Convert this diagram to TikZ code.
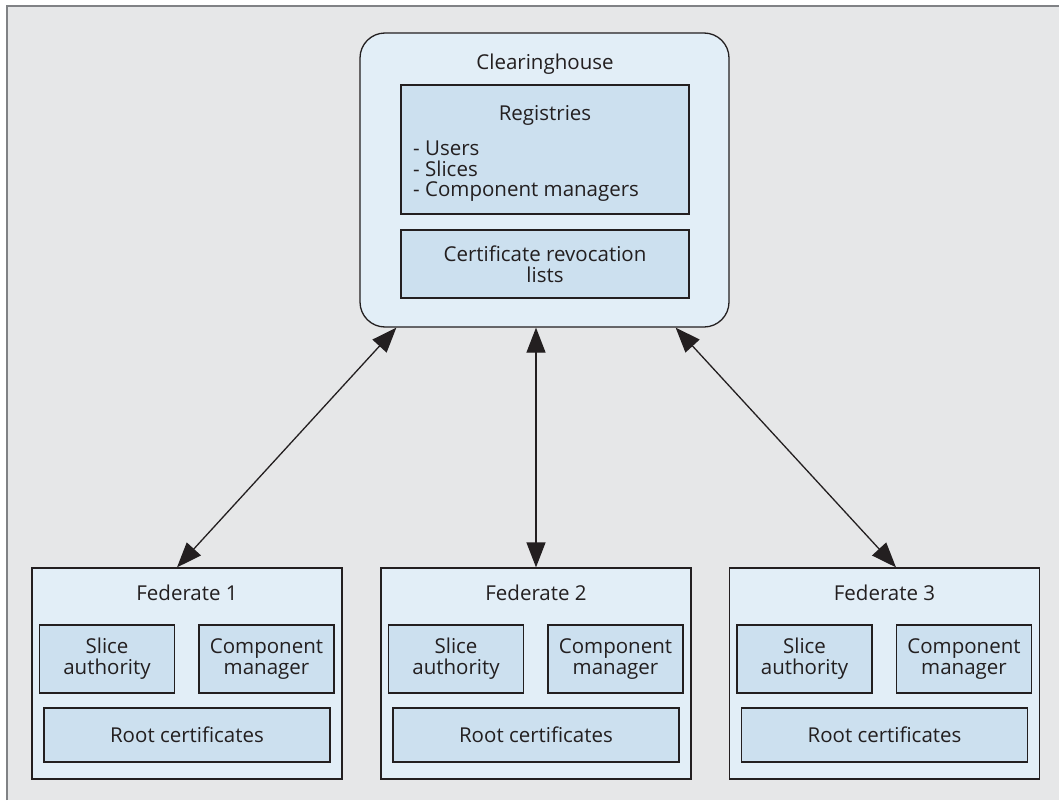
\documentclass[tikz,border=0pt]{standalone}
\usepackage{fontspec}
\setmainfont{Open Sans}
\usetikzlibrary{arrows.meta}
\definecolor{bggray}{HTML}{E6E7E8}
\definecolor{framegray}{HTML}{808285}
\definecolor{outerblue}{HTML}{E2EEF7}
\definecolor{innerblue}{HTML}{CCE0EF}
\definecolor{ink}{HTML}{231F20}
\tikzset{
  outerbox/.style={draw=ink, line width=1.3pt, fill=outerblue, inner sep=0pt},
  innerbox/.style={draw=ink, line width=1.3pt, fill=innerblue, inner sep=0pt, align=center, text=ink},
  txt/.style={inner sep=0pt, text=ink},
  arr/.style={draw=ink, line width=1.3pt, {Triangle[length=25pt,width=19pt]}-{Triangle[length=25pt,width=19pt]}}
}
\begin{document}
\begin{tikzpicture}[x=1pt,y=-1pt,font=\fontsize{20.5}{21}\selectfont]
\useasboundingbox (0,0) rectangle (1059,800);
\fill[bggray] (7,6) rectangle (1059,800);
\draw[framegray, line width=2pt] (7,800) -- (7,6) -- (1059,6);

% Clearinghouse
\node[outerbox, rounded corners=25pt, minimum width=369pt, minimum height=294pt] (ch) at (544.5,180) {};
\node[txt, anchor=base] (chlabel) at (545,70) {Clearinghouse};
\node[innerbox, minimum width=288pt, minimum height=129pt] (reg) at (545,149.5) {};
\node[txt, anchor=base] (regtitle) at (545,120) {Registries};
\node[txt, anchor=base west] (reg1) at (413,155) {- Users};
\node[txt, anchor=base west] (reg2) at (413,176) {- Slices};
\node[txt, anchor=base west] (reg3) at (413,196) {- Component managers};
\node[innerbox, minimum width=288pt, minimum height=68pt] (crl) at (545,264) {Certificate revocation\\lists};

% Federates
\foreach \i/\cx in {1/187,2/536,3/884.5}{
  \node[outerbox, minimum width=310pt, minimum height=211pt] (f\i) at (\cx,673.5) {};
  \node[txt, anchor=base] (f\i label) at (\cx,600) {Federate \i};
  \node[innerbox, minimum width=135pt, minimum height=68pt] (sa\i) at (\cx-80,659) {Slice\\authority};
  \node[innerbox, minimum width=135pt, minimum height=68pt] (cm\i) at (\cx+79.5,659) {Component\\manager};
  \node[innerbox, minimum width=286pt, minimum height=54pt] (rc\i) at (\cx,735) {Root certificates};
}

% Connectors
\draw[arr] ([xshift=37pt]ch.south west) -- ([xshift=-10pt]f1.north);
\draw[arr] ([xshift=-8.5pt]ch.south) -- (f2.north);
\draw[arr] ([xshift=-54pt]ch.south east) -- ([xshift=11.5pt]f3.north);
\end{tikzpicture}
\end{document}
